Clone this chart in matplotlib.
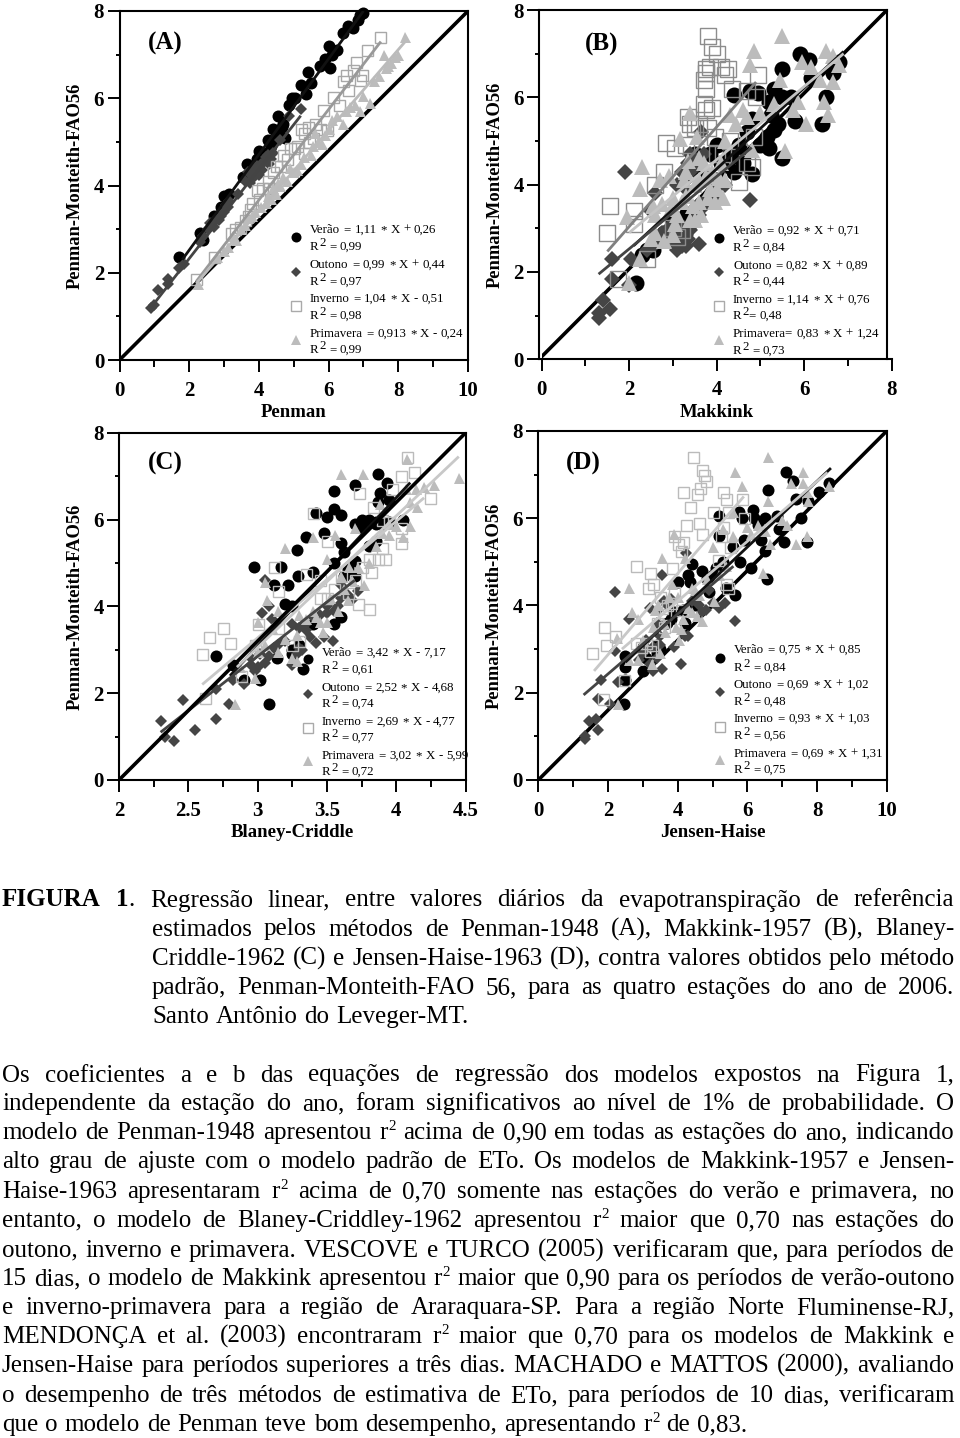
"""
plot.py

Figura 1: regressão linear ETo diária, quatro métodos contra Penman-Monteith-FAO56,
com o texto da página logo abaixo.
"""

import matplotlib
matplotlib.use("Agg")
import matplotlib.pyplot as plt
from matplotlib.lines import Line2D
from matplotlib.ticker import MultipleLocator

plt.rcParams["font.family"] = ["Liberation Serif", "DejaVu Serif"]

W, H = 960, 1438

# ── (A) Penman ────────────────────────────────────────────────
a_ver_x = [1.72, 2.3, 2.4, 2.7, 2.9, 3.0, 3.15, 3.55, 3.65, 3.8, 3.95, 4.0, 4.2, 4.25, 4.4, 4.55, 4.55, 4.7, 4.85, 4.95, 5.05, 5.2, 5.35, 5.4, 5.5, 5.75, 5.9, 6.0, 6.05, 6.1, 6.25, 6.4, 6.55, 6.7, 6.85, 6.9, 7.0, 4.35, 4.45, 4.65, 4.75]
a_ver_y = [2.35, 2.9, 2.75, 3.3, 3.5, 3.75, 3.8, 4.2, 4.5, 4.4, 4.6, 4.8, 4.75, 5.05, 5.3, 5.2, 5.6, 5.4, 5.85, 6.0, 6.0, 6.3, 6.1, 6.6, 6.35, 6.75, 6.9, 7.2, 6.7, 7.0, 7.1, 7.5, 7.65, 7.6, 7.8, 7.9, 7.95, 4.9, 5.05, 5.35, 5.1]
a_out_x = [0.9, 1.0, 1.1, 1.4, 1.4, 1.7, 1.85, 2.3, 2.4, 2.55, 2.6, 2.75, 2.9, 3.0, 3.1, 3.15, 3.4, 3.6, 3.7, 3.8, 3.9, 4.0, 4.05, 4.15, 4.25, 4.3, 4.4, 4.6, 4.85, 5.2, 3.75, 3.85, 3.95, 4.1, 4.2, 4.35, 2.7, 2.85, 3.05]
a_out_y = [1.2, 1.25, 1.6, 1.75, 1.85, 2.1, 2.2, 2.7, 2.85, 3.0, 3.15, 3.2, 3.3, 3.4, 3.5, 3.65, 3.8, 4.1, 4.3, 4.15, 4.4, 4.25, 4.5, 4.55, 4.7, 4.5, 4.75, 5.05, 5.6, 5.75, 4.05, 4.3, 4.45, 4.35, 4.65, 4.6, 3.05, 3.2, 3.55]
a_inv_x = [2.2, 2.7, 3.2, 3.3, 3.7, 3.8, 3.95, 4.0, 4.25, 4.4, 4.6, 4.8, 5.0, 5.1, 5.3, 5.3, 5.4, 5.55, 5.75, 5.85, 5.95, 6.13, 6.5, 6.56, 6.7, 6.8, 6.9, 6.95, 7.09, 7.47, 3.45, 3.6, 3.75, 4.1, 4.3, 4.5, 4.7, 4.9, 5.2, 5.45, 5.6, 6.3, 6.4]
a_inv_y = [1.85, 2.35, 2.9, 3.0, 3.3, 3.6, 3.9, 3.7, 4.1, 4.3, 4.45, 4.6, 4.85, 4.9, 4.75, 5.2, 5.35, 5.1, 5.3, 5.73, 5.27, 6.03, 6.53, 6.19, 6.65, 6.84, 6.42, 6.53, 7.1, 7.41, 3.05, 3.2, 3.45, 3.95, 3.95, 4.45, 4.7, 4.85, 5.3, 5.0, 5.4, 5.85, 6.4]
a_pri_x = [2.25, 2.8, 3.1, 3.35, 3.5, 3.7, 3.9, 4.2, 4.35, 4.5, 4.6, 4.8, 5.0, 5.2, 5.5, 5.55, 5.7, 5.8, 6.0, 6.4, 6.5, 6.6, 6.9, 7.0, 7.2, 7.3, 7.45, 7.65, 7.7, 7.6, 7.8, 7.9, 8.0, 8.2, 3.0, 3.25, 3.6, 3.8, 4.05, 4.25, 4.4, 4.55, 4.7, 4.9, 5.1, 5.3, 5.6, 5.9, 6.1, 6.25, 6.75]
a_pri_y = [1.75, 2.35, 2.6, 2.75, 3.0, 3.25, 3.4, 3.6, 3.7, 3.8, 4.0, 4.1, 4.3, 4.5, 4.7, 4.9, 5.0, 4.95, 5.3, 5.4, 5.7, 5.8, 5.7, 6.05, 5.9, 6.4, 6.5, 6.7, 6.75, 7.0, 6.8, 6.95, 7.0, 7.4, 2.5, 2.85, 3.1, 3.3, 3.5, 3.75, 3.95, 4.05, 4.2, 4.4, 4.35, 4.65, 5.2, 5.15, 5.5, 5.6, 5.85]

# ── (B) Makkink ───────────────────────────────────────────────
b_ver_x = [2.15, 2.3, 2.4, 2.55, 2.8, 3.0, 3.3, 3.7, 3.8, 3.85, 4.0, 4.1, 4.4, 4.6, 4.8, 4.6, 4.7, 4.8, 4.4, 4.75, 4.95, 5.2, 5.3, 5.5, 5.7, 5.0, 5.2, 5.3, 5.4, 5.5, 5.5, 5.9, 6.1, 5.8, 6.4, 6.5, 6.15, 6.65, 6.8, 5.25, 5.15, 3.9, 4.0, 3.5, 4.3, 4.5, 3.6]
b_ver_y = [1.75, 2.4, 2.5, 2.5, 2.9, 3.2, 3.3, 3.6, 4.2, 4.7, 4.9, 4.5, 4.3, 4.5, 4.25, 4.65, 5.2, 5.5, 6.05, 6.15, 6.1, 5.9, 6.2, 6.0, 6.0, 4.9, 4.85, 5.25, 5.4, 4.6, 6.65, 7.0, 6.85, 5.45, 5.4, 6.0, 6.45, 6.55, 6.8, 5.6, 5.1, 3.8, 4.1, 4.7, 4.7, 4.9, 4.3]
b_out_x = [1.3, 1.3, 1.4, 1.55, 1.6, 1.6, 1.9, 2.0, 2.05, 2.4, 2.6, 2.8, 3.1, 3.2, 3.3, 3.4, 3.6, 3.6, 2.5, 2.6, 3.0, 3.3, 3.1, 3.2, 3.5, 3.65, 3.4, 4.0, 4.2, 4.75, 3.7, 3.9, 2.9, 2.75, 2.85, 3.0, 3.05, 3.15, 3.25, 3.3, 3.35, 3.45, 3.55, 3.7, 3.8, 3.95, 3.3, 3.35, 3.45]
b_out_y = [0.95, 1.05, 1.35, 1.15, 1.85, 2.3, 4.3, 1.7, 2.3, 2.5, 2.65, 2.7, 2.5, 2.6, 2.85, 2.95, 2.65, 3.3, 3.4, 3.8, 3.1, 3.9, 4.0, 4.3, 4.5, 5.2, 4.7, 3.95, 4.0, 3.65, 4.7, 4.2, 3.0, 2.9, 2.75, 2.7, 2.85, 2.75, 3.0, 2.6, 2.75, 3.1, 3.5, 3.5, 3.7, 3.75, 4.1, 4.5, 4.35]
b_inv_x = [1.55, 1.5, 1.75, 2.1, 2.1, 2.4, 2.6, 2.8, 2.85, 3.05, 3.1, 3.3, 3.4, 3.35, 3.5, 3.6, 3.7, 3.75, 3.8, 3.75, 3.75, 3.7, 3.75, 3.85, 3.8, 3.9, 4.0, 4.1, 4.25, 4.2, 4.35, 4.7, 4.95, 4.9, 4.85, 4.7, 4.8, 4.5, 3.9, 3.95, 4.15, 3.0, 3.2, 4.0, 4.3]
b_inv_y = [3.5, 2.9, 1.85, 3.1, 3.4, 2.3, 4.0, 4.3, 4.95, 4.85, 2.8, 4.9, 5.4, 5.55, 5.3, 5.4, 5.85, 5.7, 5.3, 6.2, 6.55, 6.4, 6.65, 6.7, 7.4, 7.15, 7.0, 6.7, 6.65, 6.5, 6.2, 6.15, 6.5, 6.0, 5.1, 4.5, 4.4, 4.05, 5.75, 5.1, 4.7, 3.0, 2.95, 4.7, 5.0]
b_pri_x = [2.0, 1.95, 2.25, 2.3, 2.25, 2.5, 2.55, 2.8, 2.9, 2.7, 3.0, 3.0, 3.15, 3.4, 3.5, 3.55, 3.6, 3.8, 3.7, 4.0, 4.15, 4.2, 4.2, 4.3, 4.45, 4.6, 4.7, 4.75, 4.85, 4.8, 5.0, 5.3, 5.45, 5.5, 5.56, 5.75, 5.85, 6.05, 5.95, 6.15, 6.35, 6.45, 6.55, 6.5, 6.65, 6.65, 6.8, 3.3, 3.4, 3.1, 2.6, 2.75, 2.95, 3.05, 3.2, 3.3, 3.45, 3.5, 3.6, 3.65, 3.75, 3.85, 3.9, 3.95, 4.05, 3.25, 2.6, 3.35, 3.6, 4.1]
b_pri_y = [1.75, 3.25, 3.9, 4.4, 2.3, 2.75, 3.5, 2.7, 4.2, 4.1, 2.85, 3.7, 5.05, 5.65, 3.2, 5.1, 3.6, 3.7, 4.5, 3.9, 3.7, 4.1, 5.0, 5.6, 5.4, 5.7, 5.55, 6.75, 7.05, 4.8, 5.65, 5.85, 6.4, 7.4, 4.76, 5.7, 5.9, 5.4, 6.8, 6.7, 6.4, 5.9, 5.6, 7.05, 6.95, 6.35, 6.75, 4.3, 3.2, 3.3, 3.3, 3.55, 3.45, 3.1, 3.6, 3.75, 3.5, 4.0, 4.1, 3.3, 4.2, 3.9, 4.3, 3.6, 4.15, 4.1, 2.9, 4.55, 4.6, 4.5]

# ── (C) Blaney-Criddle ────────────────────────────────────────
c_ver_x = [2.7, 2.82, 2.9, 3.02, 3.08, 3.14, 3.33, 2.97, 3.12, 3.17, 3.22, 3.28, 3.29, 3.35, 3.4, 3.42, 3.5, 3.48, 3.55, 3.55, 3.6, 3.6, 3.62, 3.7, 3.7, 3.75, 3.8, 3.87, 3.88, 3.87, 3.93, 3.95, 3.95, 3.85, 4.05, 3.55, 3.65, 3.7, 3.6, 3.55, 3.2, 3.25, 3.3, 3.4, 3.3, 3.25, 3.25, 3.62, 3.7, 3.8, 3.85, 3.9, 3.75, 3.85]
c_ver_y = [2.85, 2.65, 2.3, 2.3, 1.75, 2.8, 2.55, 4.9, 4.5, 4.9, 4.5, 5.3, 4.7, 5.6, 4.8, 6.15, 6.05, 5.7, 6.65, 6.25, 6.1, 5.45, 5.25, 6.8, 5.9, 6.0, 6.0, 7.05, 6.6, 6.4, 6.85, 6.45, 5.95, 5.5, 6.0, 5.0, 4.85, 4.7, 3.75, 3.6, 4.05, 3.0, 3.1, 3.6, 3.05, 2.9, 4.0, 4.7, 5.05, 5.4, 5.9, 5.9, 5.8, 5.95]
c_out_x = [2.3, 2.33, 2.4, 2.46, 2.55, 2.7, 2.79, 2.7, 2.82, 2.9, 2.95, 3.0, 3.05, 2.98, 3.03, 3.05, 3.08, 3.1, 3.15, 3.2, 3.25, 3.3, 3.25, 3.3, 3.35, 3.38, 3.42, 3.48, 3.54, 3.45, 3.55, 3.6, 3.65, 3.68, 3.72, 3.5, 2.95, 3.02, 3.08, 3.12, 3.28, 3.32, 3.35, 3.4, 3.5, 3.58, 3.6]
c_out_y = [1.35, 1.0, 0.9, 1.85, 1.15, 1.4, 1.75, 2.1, 2.3, 2.2, 2.8, 2.6, 2.7, 2.5, 3.85, 4.6, 4.0, 3.7, 3.1, 3.2, 2.65, 3.05, 3.6, 3.5, 3.45, 3.3, 3.15, 3.3, 3.2, 3.8, 3.9, 4.2, 4.25, 4.15, 4.35, 4.0, 2.65, 2.9, 2.85, 3.05, 2.9, 3.0, 3.6, 3.75, 3.85, 4.0, 4.5]
c_inv_x = [2.6, 2.65, 2.75, 2.8, 2.62, 2.88, 2.98, 3.0, 3.12, 3.15, 3.15, 3.25, 3.35, 3.45, 3.4, 3.5, 3.6, 3.55, 3.72, 3.73, 3.8, 3.75, 3.8, 3.82, 3.87, 3.9, 3.92, 3.83, 3.95, 3.97, 4.03, 4.03, 4.03, 4.08, 4.13, 4.24, 3.9, 3.3, 3.5, 3.65, 3.7, 3.45]
c_inv_y = [2.9, 3.3, 3.5, 3.15, 1.9, 2.4, 3.1, 3.6, 4.9, 3.5, 4.35, 3.1, 4.75, 4.6, 6.15, 5.5, 4.7, 4.4, 4.05, 6.6, 3.95, 4.9, 5.1, 4.8, 5.1, 5.35, 5.1, 6.3, 5.95, 6.7, 5.8, 5.45, 7.0, 7.45, 7.1, 6.5, 6.0, 3.2, 4.2, 4.3, 4.6, 4.2]
c_pri_x = [2.84, 2.87, 2.98, 3.0, 3.05, 3.07, 3.15, 3.15, 3.25, 3.28, 3.35, 3.28, 3.4, 3.45, 3.47, 3.5, 3.5, 3.58, 3.6, 3.4, 3.56, 3.2, 3.66, 3.7, 3.76, 3.77, 3.8, 3.9, 3.88, 3.95, 4.05, 4.08, 4.1, 4.07, 4.14, 4.2, 4.27, 4.1, 4.45, 3.68, 3.62, 3.1, 3.2, 3.3, 3.42, 3.52, 3.6, 3.65, 3.72, 3.85, 3.95, 4.0, 4.15, 3.0, 3.05]
c_pri_y = [1.75, 2.6, 2.35, 3.65, 4.55, 4.15, 3.9, 2.95, 2.8, 3.35, 3.7, 2.75, 3.9, 3.65, 3.4, 3.65, 5.1, 3.9, 7.05, 5.6, 5.65, 5.35, 4.9, 5.8, 7.05, 4.5, 5.0, 5.7, 6.35, 5.9, 5.6, 7.4, 5.85, 6.7, 6.7, 6.75, 6.8, 6.4, 6.95, 4.6, 4.4, 3.5, 3.25, 3.8, 3.75, 4.2, 4.7, 4.15, 4.9, 5.4, 5.65, 5.85, 6.3, 2.95, 3.1]

# ── (D) Jensen-Haise ──────────────────────────────────────────
d_ver_x = [2.45, 2.5, 2.5, 2.5, 3.0, 3.4, 3.5, 3.7, 4.2, 4.3, 4.4, 4.7, 4.85, 5.2, 5.2, 5.3, 5.4, 5.65, 5.6, 5.75, 5.85, 5.9, 5.8, 6.1, 6.15, 6.2, 6.3, 6.4, 6.5, 6.55, 6.6, 6.5, 6.85, 6.9, 7.05, 7.1, 7.3, 7.4, 7.55, 7.75, 7.7, 8.05, 8.35, 3.0, 4.0, 3.1, 3.4, 3.8, 3.9, 4.15, 4.35, 4.5, 4.9, 5.0, 5.1]
d_ver_y = [1.75, 2.85, 2.6, 2.3, 2.5, 2.9, 3.0, 3.6, 3.6, 4.7, 4.95, 4.8, 4.6, 6.05, 5.6, 5.0, 4.4, 4.25, 5.35, 6.15, 6.0, 5.5, 5.0, 4.85, 6.2, 6.0, 5.85, 5.5, 5.25, 4.6, 6.65, 6.0, 6.05, 5.75, 5.45, 7.05, 6.85, 6.45, 6.0, 6.4, 5.45, 6.6, 6.8, 3.05, 4.55, 2.8, 3.1, 3.7, 3.85, 3.9, 4.55, 4.0, 4.3, 4.7, 4.85]
d_out_x = [1.35, 1.35, 1.45, 1.65, 1.7, 1.7, 1.8, 2.05, 2.3, 2.2, 2.2, 2.6, 3.0, 3.1, 3.3, 3.55, 3.2, 3.4, 3.55, 3.9, 4.1, 4.2, 4.25, 4.3, 4.6, 4.8, 4.9, 5.2, 5.35, 5.65, 3.7, 3.3, 3.5, 2.9, 3.05, 3.2, 3.4, 3.5, 3.45, 3.6, 3.8, 4.4, 4.7, 5.0]
d_out_y = [0.95, 1.0, 1.35, 1.4, 1.15, 1.85, 2.3, 1.75, 2.25, 4.3, 2.95, 3.7, 2.9, 3.2, 2.5, 2.55, 3.95, 3.6, 4.7, 3.05, 2.65, 3.3, 5.2, 3.3, 4.0, 3.9, 4.35, 3.95, 4.05, 3.65, 4.0, 3.05, 3.3, 2.75, 2.95, 2.65, 2.8, 3.1, 3.9, 4.1, 4.15, 4.1, 3.85, 4.05]
d_inv_x = [1.55, 1.85, 1.9, 1.95, 2.2, 2.45, 2.8, 2.8, 2.95, 3.15, 3.2, 3.25, 3.3, 3.5, 3.6, 3.7, 3.8, 3.85, 3.9, 4.0, 4.1, 4.1, 4.15, 4.15, 4.25, 4.35, 4.55, 4.6, 4.65, 4.45, 4.7, 4.75, 4.8, 4.7, 5.0, 5.15, 5.3, 5.4, 5.5, 5.4, 5.45, 5.85, 5.9, 5.45, 3.1, 3.2, 3.4, 3.55, 3.65, 3.9, 5.25, 5.3]
d_inv_y = [2.9, 1.85, 3.5, 3.1, 3.3, 2.3, 3.15, 4.9, 3.05, 4.4, 4.75, 3.1, 4.5, 4.2, 3.5, 4.0, 4.05, 4.85, 5.6, 5.4, 5.25, 3.9, 5.45, 6.6, 5.85, 6.25, 6.55, 5.9, 6.7, 7.4, 7.1, 7.0, 6.85, 5.65, 6.15, 5.05, 6.6, 6.45, 5.35, 4.5, 6.15, 6.45, 6.0, 4.4, 3.15, 2.95, 3.6, 3.95, 3.8, 4.3, 5.6, 5.8]
d_pri_x = [2.3, 2.25, 2.6, 2.7, 2.6, 2.85, 2.85, 3.25, 3.5, 3.35, 3.45, 3.55, 3.65, 3.9, 3.95, 4.05, 4.2, 4.1, 4.3, 4.5, 4.6, 4.7, 5.0, 5.3, 5.2, 5.6, 5.65, 5.85, 5.6, 6.0, 6.45, 6.5, 6.6, 6.6, 6.65, 7.0, 7.15, 7.25, 7.4, 7.6, 7.6, 7.7, 7.7, 7.75, 8.35, 4.4, 4.0, 3.0, 3.3, 3.6, 3.75, 3.85, 4.15, 4.4, 4.55, 4.85, 5.05, 5.4, 6.1, 6.3]
d_pri_y = [1.75, 3.25, 4.4, 3.85, 2.75, 2.75, 3.7, 2.65, 2.9, 3.9, 4.0, 5.1, 3.4, 5.65, 3.5, 3.2, 5.1, 3.45, 3.95, 4.35, 4.25, 3.65, 5.35, 5.75, 4.7, 5.6, 7.05, 6.75, 6.15, 5.8, 4.75, 5.7, 6.4, 7.4, 5.4, 5.95, 5.85, 6.8, 5.4, 7.05, 6.8, 5.6, 6.6, 6.4, 6.75, 4.4, 4.2, 3.2, 3.5, 3.6, 4.2, 4.5, 3.7, 3.85, 3.75, 4.6, 4.1, 4.9, 5.65, 5.85]

# ── Retas de regressão (extremos) ─────────────────────────────
a_lines = [([1.8, 7.0], [2.3, 8.0]), ([0.9, 5.2], [1.2, 5.6]), ([2.2, 7.5], [1.8, 7.3]), ([2.2, 8.2], [1.75, 7.3])]
b_lines = [([2.1, 6.9], [2.6, 7.05]), ([1.3, 4.8], [1.95, 4.85]), ([1.5, 4.9], [2.47, 6.35]), ([2.0, 6.9], [2.9, 7.0])]
c_lines = [([2.8, 4.1], [2.4, 6.85]), ([2.3, 3.7], [1.1, 4.6]), ([2.6, 4.2], [2.2, 6.5]), ([2.85, 4.45], [2.6, 7.45])]
d_lines = [([2.5, 8.4], [2.7, 7.15]), ([1.3, 5.6], [1.95, 4.9]), ([1.6, 5.9], [2.5, 6.5]), ([2.4, 8.3], [3.0, 7.05])]

# ── Textos das legendas ───────────────────────────────────────
a_legend = ["Verão = 1,11 * X + 0,26", "R^2 = 0,99", "Outono = 0,99 * X + 0,44", "R^2 = 0,97",
            "Inverno = 1,04 * X - 0,51", "R^2 = 0,98", "Primavera = 0,913 * X - 0,24", "R^2 = 0,99"]
b_legend = ["Verão = 0,92 * X + 0,71", "R^2 = 0,84", "Outono = 0,82 * X + 0,89", "R^2 = 0,44",
            "Inverno = 1,14 * X + 0,76", "R^2= 0,48", "Primavera= 0,83 * X + 1,24", "R^2 = 0,73"]
c_legend = ["Verão = 3,42 * X - 7,17", "R^2 = 0,61", "Outono = 2,52 * X - 4,68", "R^2 = 0,74",
            "Inverno = 2,69 * X - 4,77", "R^2 = 0,77", "Primavera = 3,02 * X - 5,99", "R^2 = 0,72"]
d_legend = ["Verão = 0,75 * X + 0,85", "R^2 = 0,84", "Outono = 0,69 * X + 1,02", "R^2 = 0,48",
            "Inverno = 0,93 * X + 1,03", "R^2 = 0,56", "Primavera = 0,69 * X + 1,31", "R^2 = 0,75"]

# ── Texto da página ───────────────────────────────────────────
para1 = [
    "*FIGURA *1. Regressão linear, entre valores diários da evapotranspiração de referência",
    "estimados pelos métodos de Penman-1948 (A), Makkink-1957 (B), Blaney-",
    "Criddle-1962 (C) e Jensen-Haise-1963 (D), contra valores obtidos pelo método",
    "padrão, Penman-Monteith-FAO 56, para as quatro estações do ano de 2006.",
    "Santo Antônio do Leveger-MT.",
]
para2 = [
    "Os coeficientes a e b das equações de regressão dos modelos expostos na Figura 1,",
    "independente da estação do ano, foram significativos ao nível de 1% de probabilidade. O",
    "modelo de Penman-1948 apresentou r^2 acima de 0,90 em todas as estações do ano, indicando",
    "alto grau de ajuste com o modelo padrão de ETo. Os modelos de Makkink-1957 e Jensen-",
    "Haise-1963 apresentaram r^2 acima de 0,70 somente nas estações do verão e primavera, no",
    "entanto, o modelo de Blaney-Criddley-1962 apresentou r^2 maior que 0,70 nas estações do",
    "outono, inverno e primavera. VESCOVE e TURCO (2005) verificaram que, para períodos de",
    "15 dias, o modelo de Makkink apresentou r^2 maior que 0,90 para os períodos de verão-outono",
    "e inverno-primavera para a região de Araraquara-SP. Para a região Norte Fluminense-RJ,",
    "MENDONÇA et al. (2003) encontraram r^2 maior que 0,70 para os modelos de Makkink e",
    "Jensen-Haise para períodos superiores a três dias. MACHADO e MATTOS (2000), avaliando",
    "o desempenho de três métodos de estimativa de ETo, para períodos de 10 dias, verificaram",
    "que o modelo de Penman teve bom desempenho, apresentando r^2 de 0,83.",
]
para1_base = [906.5, 935.5, 965, 994, 1023]
para2_base = [1081.5, 1110, 1139, 1168, 1198, 1227, 1257, 1285, 1314, 1343, 1372, 1402, 1431]

fig = plt.figure(figsize=(W / 100, H / 100), dpi=100, facecolor="white")
renderer = fig.canvas.get_renderer()


# ── Texto em pixels, com expoente e justificação ──────────────

def fx(x):
    return x / W


def fy(y):
    return 1 - y / H


def word_runs(word, size, sup_scale, rise):
    """Divide a palavra em partes: (texto, tamanho, peso, deslocamento)."""
    if word.startswith("*") and len(word) > 1:
        word = word[1:]
        if word.endswith("."):
            return [(word[:-1], size, "bold", 0), (".", size, "normal", 0)]
        return [(word, size, "bold", 0)]
    if "^2" in word:
        head, tail = word.split("^2")
        runs = [(head, size, "normal", 0), ("2", size * sup_scale, "normal", rise)]
        if tail:
            runs.append((tail, size, "normal", 0))
        return runs
    return [(word, size, "normal", 0)]


def run_width(run):
    t = fig.text(0, 0, run[0], fontsize=run[1], fontweight=run[2])
    w = t.get_window_extent(renderer).width
    t.remove()
    return w + 0.04 * run[1]


def put_line(line, x0, base, size, x1=None, sup_scale=0.6, rise=9):
    """Desenha uma linha palavra a palavra; com x1 a linha fica justificada."""
    words = [word_runs(w, size, sup_scale, rise) for w in line.split(" ")]
    widths = [sum(run_width(r) for r in w) for w in words]
    gap = 0.25 * size * 100 / 72
    if x1 is not None and len(words) > 1:
        gap = (x1 - x0 - sum(widths)) / (len(words) - 1)
    x = x0
    for runs, width in zip(words, widths):
        cx = x
        for run in runs:
            fig.text(fx(cx), fy(base - run[3]), run[0], fontsize=run[1], fontweight=run[2],
                     ha="left", va="baseline", color="black")
            cx += run_width(run)
        x += width + gap


# ── Painéis ───────────────────────────────────────────────────

panels = [
    {"box": (119.5, 468, 11, 360), "frame": None, "xlim": (0, 10), "major": 2, "minor": 1,
     "xticklabels": None, "xlabel": "Penman", "tag": "(A)", "tag_xy": (148, 50),
     "series": [(a_ver_x, a_ver_y), (a_out_x, a_out_y), (a_inv_x, a_inv_y), (a_pri_x, a_pri_y)],
     "lines": a_lines, "legend": a_legend, "ms": (12, 8.5, 11, 11), "square": "#a8a8a8", "diag_z": 2,
     "text_x": 310, "text_base": [233, 250, 268, 285, 302, 319, 337, 353],
     "key_x": 296, "key_y": [237, 272, 306, 340]},
    {"box": (541.7, 891.7, 10, 359.3), "frame": (539, 887), "xlim": (0, 8), "major": 2, "minor": 1,
     "xticklabels": None, "xlabel": "Makkink", "tag": "(B)", "tag_xy": (585, 51),
     "series": [(b_ver_x, b_ver_y), (b_out_x, b_out_y), (b_inv_x, b_inv_y), (b_pri_x, b_pri_y)],
     "lines": b_lines, "legend": b_legend, "ms": (16, 11, 16, 16), "square": "#8c8c8c", "diag_z": 2,
     "text_x": 733, "text_base": [234, 251, 269, 285, 303, 319, 337, 354],
     "key_x": 719, "key_y": [238, 272, 306, 340]},
    {"box": (119, 465.7, 432.7, 780), "frame": None, "xlim": (2, 4.5), "major": 0.5, "minor": 0.25,
     "xticklabels": ["2", "2.5", "3", "3.5", "4", "4.5"], "xlabel": "Blaney-Criddle", "tag": "(C)", "tag_xy": (148, 470),
     "series": [(c_ver_x, c_ver_y), (c_out_x, c_out_y), (c_inv_x, c_inv_y), (c_pri_x, c_pri_y)],
     "lines": c_lines, "legend": c_legend, "ms": (12, 8, 11, 11), "square": "#bbbbbb", "diag_z": 6,
     "text_x": 322, "text_base": [656, 673, 691, 707, 725, 741, 759, 775],
     "key_x": 308, "key_y": [659, 694, 728, 761]},
    {"box": (538.3, 886.7, 431, 780), "frame": None, "xlim": (0, 10), "major": 2, "minor": 1,
     "xticklabels": None, "xlabel": "Jensen-Haise", "tag": "(D)", "tag_xy": (566, 470),
     "series": [(d_ver_x, d_ver_y), (d_out_x, d_out_y), (d_inv_x, d_inv_y), (d_pri_x, d_pri_y)],
     "lines": d_lines, "legend": d_legend, "ms": (12, 8, 11, 11), "square": "#bbbbbb", "diag_z": 2,
     "text_x": 734, "text_base": [653, 671, 688, 705, 722, 739, 757, 773],
     "key_x": 720, "key_y": [658, 692, 727, 760]},
]

MARKERS = ["o", "D", "s", "^"]
LINE_COLORS = {"(A)": ["#111111", "#444444", "#999999", "#bbbbbb"],
               "(B)": ["#111111", "#444444", "#808080", "#c4c4c4"],
               "(C)": ["#111111", "#444444", "#c8c8c8", "#c8c8c8"],
               "(D)": ["#111111", "#444444", "#c8c8c8", "#c8c8c8"]}


def marker_style(i, ms_px, square_color):
    style = {"marker": MARKERS[i], "markersize": ms_px * 0.72, "linestyle": "none", "clip_on": False}
    if i == 0:
        style.update(mfc="#000000", mec="#000000", mew=0)
    elif i == 1:
        style.update(mfc="#454545", mec="#454545", mew=0)
    elif i == 2:
        style.update(mfc="none", mec=square_color, mew=1.0)
    else:
        style.update(mfc="#bcbcbc", mec="#bcbcbc", mew=0)
    return style


for p in panels:
    left, right, top, bottom = p["box"]
    ax = fig.add_axes([fx(left), fy(bottom), (right - left) / W, (bottom - top) / H])
    ax.set_xlim(*p["xlim"])
    ax.set_ylim(0, 8)
    ax.patch.set_alpha(0)

    x_lo, x_hi = p["xlim"]
    if p["frame"] is not None:
        # no painel (B) o eixo X está deslocado em relação à moldura
        scale = (x_hi - x_lo) / (right - left)
        x_hi = x_lo + (p["frame"][1] - left) * scale
        x_lo = x_lo + (p["frame"][0] - left) * scale
        ax.spines["left"].set_position(("data", x_lo))
        ax.spines["right"].set_position(("data", x_hi))
        ax.spines["top"].set_bounds(x_lo, x_hi)
        ax.spines["bottom"].set_bounds(x_lo, p["xlim"][1])

    for i, (xs, ys) in enumerate(p["series"]):
        ax.plot(xs, ys, zorder=3 + i * 0.1, **marker_style(i, p["ms"][i], p["square"]))
    for i, (xs, ys) in enumerate(p["lines"]):
        ax.plot(xs, ys, color=LINE_COLORS[p["tag"]][i], lw=2.0, zorder=4 + i * 0.1, solid_capstyle="butt")
    ax.plot([x_lo, x_hi], [0, 8], color="black", lw=2.6, zorder=p["diag_z"], solid_capstyle="butt")

    for s in ax.spines.values():
        s.set_linewidth(1.5)
    ax.xaxis.set_major_locator(MultipleLocator(p["major"]))
    ax.xaxis.set_minor_locator(MultipleLocator(p["minor"]))
    ax.yaxis.set_major_locator(MultipleLocator(2))
    ax.yaxis.set_minor_locator(MultipleLocator(1))
    ax.tick_params(axis="x", which="major", length=8.5, width=1.4, pad=6.5, labelsize=15)
    ax.tick_params(axis="x", which="minor", length=5, width=1.4)
    ax.tick_params(axis="y", which="major", length=9, width=1.4, pad=2, labelsize=15)
    ax.tick_params(axis="y", which="minor", length=3.2, width=1.4)
    if p["xticklabels"] is not None:
        ax.set_xticks([2, 2.5, 3, 3.5, 4, 4.5])
        ax.set_xticklabels(p["xticklabels"])
    for lab in ax.get_xticklabels() + ax.get_yticklabels():
        lab.set_fontweight("bold")
    ax.set_xlabel(p["xlabel"], fontsize=13.5, fontweight="bold", labelpad=2.5)
    ax.set_ylabel("Penman-Monteith-FAO56", fontsize=13.3, fontweight="bold", labelpad=7)

    fig.text(fx(p["tag_xy"][0]), fy(p["tag_xy"][1]), p["tag"], fontsize=18, fontweight="bold",
             ha="left", va="baseline", color="black")

    # legenda escrita à mão, como no original
    for line, base in zip(p["legend"], p["text_base"]):
        put_line(line, p["text_x"], base, 9.3, sup_scale=1.0, rise=4)
    for i, ky in enumerate(p["key_y"]):
        ms_px = 10 if i != 1 else 7.5
        fig.add_artist(Line2D([fx(p["key_x"])], [fy(ky)], transform=fig.transFigure,
                              zorder=8, **marker_style(i, ms_px, "#aaaaaa")))

# ── Parágrafos ────────────────────────────────────────────────

TEXT_SIZE = 18
RIGHT_EDGE = 955

for i, (line, base) in enumerate(zip(para1, para1_base)):
    x0 = 2 if i == 0 else 152
    x1 = RIGHT_EDGE if i < len(para1) - 1 else None
    put_line(line, x0, base, TEXT_SIZE, x1=x1)

for i, (line, base) in enumerate(zip(para2, para2_base)):
    x1 = RIGHT_EDGE if i < len(para2) - 1 else None
    put_line(line, 2, base, TEXT_SIZE, x1=x1)

fig.savefig("out.png", dpi=100, facecolor="white")
